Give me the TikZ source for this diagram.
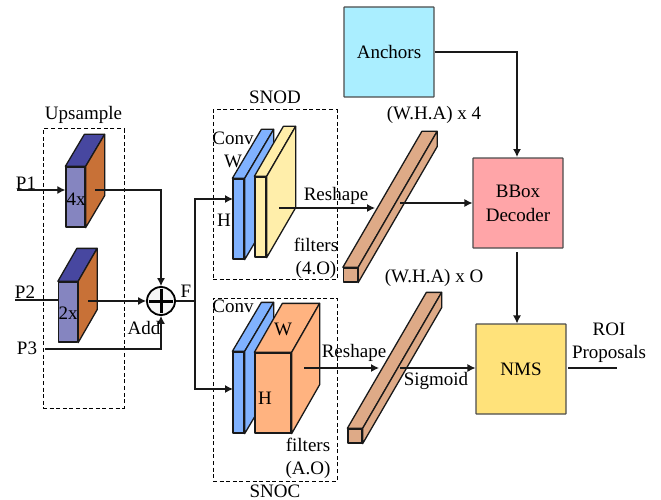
\documentclass[tikz,border=0pt]{standalone}
\usepackage{fontspec}
\setmainfont{Liberation Serif}
\usetikzlibrary{calc,positioning,arrows.meta}
\definecolor{upfront}{HTML}{8585C0}
\definecolor{uptop}{HTML}{4747A0}
\definecolor{upside}{HTML}{C87137}
\definecolor{convblue}{HTML}{80B2FF}
\definecolor{filteryellow}{HTML}{FFEEAA}
\definecolor{filterorange}{HTML}{FFB380}
\definecolor{barbrown}{HTML}{DEAA87}
\definecolor{anchorcyan}{HTML}{AAEEFF}
\definecolor{bboxpink}{HTML}{FFA5A8}
\definecolor{nmsyellow}{HTML}{FFE27A}
\newcommand{\boxfaces}[4]{%
    \draw[face, fill=#3] (#1.north west) -- ($(#1.north west)+(#2)$) -- ($(#1.north east)+(#2)$) -- (#1.north east) -- cycle;
    \draw[face, fill=#4] (#1.north east) -- ($(#1.north east)+(#2)$) -- ($(#1.south east)+(#2)$) -- (#1.south east) -- cycle;
}
\begin{document}
\begin{tikzpicture}[
    x=1pt, y=-1pt,
    every node/.style={font=\fontsize{19}{21}\selectfont, inner sep=0pt, align=center},
    face/.style={draw=black!90, line width=1.3pt, line join=round},
    front/.style={face, minimum width=#1, minimum height=80pt},
    barfront/.style={face, fill=barbrown, minimum width=14pt, minimum height=14pt},
    dashbox/.style={draw, dashed, line width=1pt, dash pattern=on 4pt off 2.6pt},
    stage/.style={draw=black!70, line width=1.1pt, minimum width=90pt, minimum height=90pt, rounded corners=0.5pt},
    link/.style={draw, line width=1.2pt, black!90},
    arrow/.style={link, -{Latex[length=8pt,width=8pt]}},
]
    \useasboundingbox (0,0) rectangle (661,500);

    % dashed groups
    \node[dashbox, minimum width=81pt, minimum height=279pt] (upsample) at (83.5,268.5) {};
    \node[dashbox, minimum width=124pt, minimum height=169pt] (snod) at (275,194.5) {};
    \node[dashbox, minimum width=124pt, minimum height=183pt] (snoc) at (275,389.5) {};

    % upsample blocks
    \node[front=19pt, minimum height=60pt, fill=upfront] (block4x) at (75.5,197) {};
    \boxfaces{block4x}{19,-32}{uptop}{upside}
    \node[front=19pt, minimum height=60pt, fill=upfront] (block2x) at (68,312) {};
    \boxfaces{block2x}{19,-33}{uptop}{upside}

    % conv and filter blocks
    \node[front=11pt, fill=convblue] (convod) at (238.5,219) {};
    \boxfaces{convod}{29,-49}{convblue}{convblue}
    \node[front=11pt, fill=filteryellow] (filterod) at (260.5,217) {};
    \boxfaces{filterod}{29,-50}{filteryellow}{filteryellow}
    \node[front=11pt, fill=convblue, minimum height=81pt] (convoc) at (238.5,392.5) {};
    \boxfaces{convoc}{29,-49}{convblue}{convblue}
    \node[front=36pt, fill=filterorange] (filteroc) at (273,393) {};
    \boxfaces{filteroc}{28,-49}{filterorange}{filterorange}

    % long bars
    \node[barfront] (barod) at (350.5,275) {};
    \boxfaces{barod}{79,-136}{barbrown}{barbrown}
    \node[barfront] (baroc) at (355,436) {};
    \boxfaces{baroc}{79,-136}{barbrown}{barbrown}

    % right hand boxes
    \node[stage, fill=anchorcyan] (anchors) at (389,52) {Anchors};
    \node[stage, fill=bboxpink] (bbox) at (518,203) {BBox\\[3pt]Decoder};
    \node[stage, fill=nmsyellow] (nms) at (521,369) {NMS};

    % add circle
    \node[circle, draw, line width=1.8pt, fill=black!4, minimum size=28pt] (add) at (161,301) {};
    \draw[line width=3pt, shorten >=3pt, shorten <=3pt] (add.west) -- (add.east);
    \draw[line width=3pt, shorten >=3pt, shorten <=3pt] (add.north) -- (add.south);

    % free ends of the connectors
    \coordinate (p1in) at (17,190);
    \coordinate (p1out) at (95,190);
    \coordinate (p2in) at (15,300);
    \coordinate (p2out) at (88,301);
    \coordinate (p3in) at (45,349);
    \coordinate (split) at (195,301);
    \coordinate (odin) at (233,199);
    \coordinate (ocin) at (233,389);
    \coordinate (odmid) at (279,208);
    \coordinate (odbar) at (375,208);
    \coordinate (ocmid) at (304,368);
    \coordinate (ocbar) at (379,368);
    \coordinate (barodout) at (400,203);
    \coordinate (barocout) at (400,368);
    \coordinate (bboxtop) at (517,157);
    \coordinate (bboxout) at (517,252);
    \coordinate (nmsout) at (568,368);
    \coordinate (roiend) at (617,368);

    \draw[arrow] (p1in) -- (block4x.west |- p1in);
    \draw[arrow] (p1out) -| (add.north);
    \draw[link] (p2in) -- (block2x.west |- p2in);
    \draw[arrow] (p2out) -- (add.west);
    \draw[arrow] (p3in) -| (add.south);
    \draw[link] (add.east) -- (split);
    \draw[arrow] (split) |- (odin);
    \draw[arrow] (split) |- (ocin);
    \draw[arrow] (odmid) -- (odbar);
    \draw[arrow] (ocmid) -- (ocbar);
    \draw[arrow] (barodout) -- (bbox.west |- barodout);
    \draw[arrow] (barocout) -- (nms.west |- barocout);
    \draw[arrow] (anchors.east) -| (bboxtop);
    \draw[arrow] (bboxout) -- (nms.north -| bboxout);
    \draw[link] (nmsout) -- (roiend);

    % labels
    \node[above=5pt of upsample] (uplabel) {Upsample};
    \node[above=6pt of snod] (snodlabel) {SNOD};
    \node[below=3pt of snoc] (snoclabel) {SNOC};
    \node (p1label) at (26,183) {P1};
    \node (p2label) at (25,292) {P2};
    \node (p3label) at (27,348) {P3};
    \node (x4label) at (76,199) {4x};
    \node (x2label) at (68,313) {2x};
    \node (addlabel) at (144,328) {Add};
    \node (flabel) at (186,291) {F};
    \node (convodlabel) at (233,138) {Conv};
    \node (wodlabel) at (233,161) {W};
    \node (hodlabel) at (224,220) {H};
    \node (convoclabel) at (233,306) {Conv};
    \node (woclabel) at (283,329) {W};
    \node (hoclabel) at (265,398) {H};
    \node (reshapeod) at (336,196) {Reshape};
    \node (reshapeoc) at (354,353) {Reshape};
    \node (filtersod) at (316,245) {filters};
    \node (countod) at (316,270) {(4.O)};
    \node (filtersoc) at (308,445) {filters};
    \node (countoc) at (308,470) {(A.O)};
    \node (sizeod) at (434,115) {(W.H.A) x 4};
    \node (sizeoc) at (434,278) {(W.H.A) x O};
    \node (sigmoid) at (436,381) {Sigmoid};
    \node (roilabel) at (609,329) {ROI};
    \node (proposals) at (609,354) {Proposals};
\end{tikzpicture}
\end{document}
